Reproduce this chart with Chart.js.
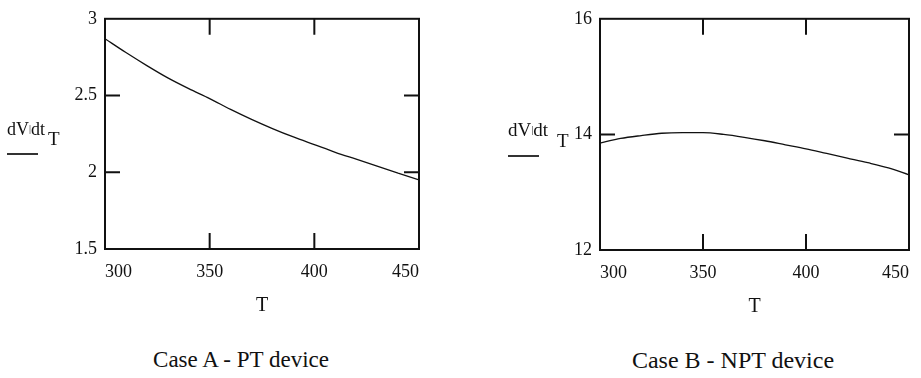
<!DOCTYPE html>
<html>
<head>
<meta charset="utf-8">
<script src="https://cdn.jsdelivr.net/npm/chart.js@4.4.0/dist/chart.umd.min.js"></script>
<style>
  html, body { margin: 0; padding: 0; background: #fff; }
  body { width: 921px; height: 378px; position: relative; overflow: hidden;
         font-family: "Liberation Serif", "Times New Roman", serif; color: #111; }
  .box { position: absolute; top: 0; }
  .t { position: absolute; line-height: 1; white-space: nowrap; }
  .rule { position: absolute; height: 1.5px; background: #333; }
</style>
</head>
<body>
<div class="box" style="left:0;"><canvas id="caseA" width="440" height="330"></canvas></div>
<div class="box" style="left:460px;"><canvas id="caseB" width="461" height="330"></canvas></div>

<!-- y axis titles (Mathcad style) -->
<div class="t" style="left:7px;top:120px;font-size:18px;">dV<span style="font-size:10px;vertical-align:3px;">|</span>dt</div>
<div class="t" style="left:48px;top:129px;font-size:19px;">T</div>
<div class="rule" style="left:7px;top:153px;width:31px;"></div>

<div class="t" style="left:508px;top:120px;font-size:19px;">dV<span style="font-size:10px;vertical-align:3px;">|</span>dt</div>
<div class="t" style="left:557px;top:131px;font-size:19px;">T</div>
<div class="rule" style="left:508px;top:155px;width:31px;"></div>

<!-- captions -->
<div class="t" style="left:241px;top:348px;font-size:23px;transform:translateX(-50%);">Case A - PT device</div>
<div class="t" style="left:733px;top:348px;font-size:24px;transform:translateX(-50%);">Case B - NPT device</div>

<script>
// temperature T and dV/dt
const tempA = [300, 310, 320, 330, 340, 350, 360, 370, 380, 390, 400, 410, 420, 430, 440, 450];
const rateA = [2.87, 2.78, 2.695, 2.615, 2.545, 2.48, 2.41, 2.345, 2.285, 2.23, 2.18, 2.13, 2.085, 2.04, 1.995, 1.95];

const tempB = [300, 310, 320, 330, 340, 350, 360, 370, 380, 390, 400, 410, 420, 430, 440, 450];
const rateB = [13.85, 13.93, 13.98, 14.02, 14.03, 14.03, 14.00, 13.95, 13.89, 13.82, 13.75, 13.67, 13.59, 13.51, 13.42, 13.30];

// tick labels
const xTicks = [300, 350, 400, 450];
const yTicksA = [1.5, 2, 2.5, 3];
const yTicksB = [12, 14, 16];

const serif = 'Liberation Serif, DejaVu Serif, serif';
const ink = '#111';

// box around the plot + inward tick marks on all four sides
const framePlugin = {
  id: 'mathcadFrame',
  afterDatasetsDraw(chart, args, opts) {
    const { ctx, chartArea: a, scales: { x, y } } = chart;
    ctx.save();
    ctx.strokeStyle = ink;
    ctx.lineWidth = 2;
    ctx.strokeRect(a.left, a.top, a.right - a.left, a.bottom - a.top);
    ctx.beginPath();
    opts.xMarks.forEach(v => {
      const px = x.getPixelForValue(v);
      ctx.moveTo(px, a.top); ctx.lineTo(px, a.top + 16);
      ctx.moveTo(px, a.bottom); ctx.lineTo(px, a.bottom - 16);
    });
    opts.yMarks.forEach(v => {
      const py = y.getPixelForValue(v);
      ctx.moveTo(a.left, py); ctx.lineTo(a.left + 15, py);
      ctx.moveTo(a.right, py); ctx.lineTo(a.right - 15, py);
    });
    ctx.stroke();
    ctx.restore();
  }
};

function makePlot(id, temps, rates, yTicks, pad, yWidth) {
  const pts = temps.map((t, i) => ({ x: t, y: rates[i] }));
  return new Chart(document.getElementById(id), {
    type: 'line',
    data: {
      datasets: [{
        data: pts,
        borderColor: ink,
        borderWidth: 1.3,
        pointRadius: 0,
        cubicInterpolationMode: 'monotone',
        fill: false
      }]
    },
    options: {
      responsive: false,
      animation: false,
      layout: { autoPadding: false, padding: pad },
      plugins: {
        legend: { display: false },
        tooltip: { enabled: false },
        mathcadFrame: { xMarks: xTicks.slice(1, -1), yMarks: yTicks.slice(1, -1) }
      },
      scales: {
        x: {
          type: 'linear',
          min: xTicks[0],
          max: xTicks[xTicks.length - 1],
          afterBuildTicks: s => { s.ticks = xTicks.map(v => ({ value: v })); },
          afterFit: s => { s.height = 75; },
          grid: { display: false, drawTicks: false },
          border: { display: false },
          ticks: { align: 'inner', padding: 12, maxRotation: 0, autoSkip: false,
                   color: ink, font: { family: serif, size: 18 },
                   callback: v => String(v) },
          title: { display: true, text: 'T', color: ink,
                   font: { family: serif, size: 20 }, padding: { top: 0, bottom: 6 } }
        },
        y: {
          type: 'linear',
          min: yTicks[0],
          max: yTicks[yTicks.length - 1],
          afterBuildTicks: s => { s.ticks = yTicks.map(v => ({ value: v })); },
          afterFit: s => { s.width = yWidth; },
          grid: { display: false, drawTicks: false },
          border: { display: false },
          ticks: { padding: 8, autoSkip: false, color: ink, font: { family: serif, size: 18 },
                   callback: v => String(v) }
        }
      }
    },
    plugins: [framePlugin]
  });
}

makePlot('caseA', tempA, rateA, yTicksA, { left: 0, top: 11, right: 21, bottom: 6 }, 105);
makePlot('caseB', tempB, rateB, yTicksB, { left: 0, top: 13, right: 8, bottom: 5 }, 140);
</script>
</body>
</html>
